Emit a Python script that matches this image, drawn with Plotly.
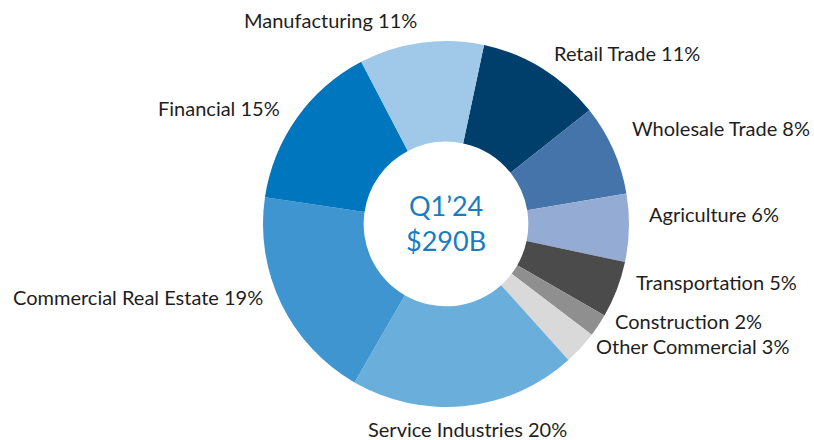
import math
import plotly.graph_objects as go

categories = ["Retail Trade", "Wholesale Trade", "Agriculture", "Transportation",
              "Construction", "Other Commercial", "Service Industries",
              "Commercial Real Estate", "Financial", "Manufacturing"]
values = [11, 8, 6, 5, 2, 3, 20, 19, 15, 11]
colors = ["#003f6b", "#4474aa", "#94abd3", "#4b4b4b", "#8f8f8f", "#d9d9d9",
          "#6aaedb", "#3f95d0", "#0076bf", "#a0c8e8"]
center_text = "Q1’24<br>$290B"

W, H = 814, 440
ROTATION = 12
dom_x = [263 / W, 629 / W]
dom_y = [33 / H, 399 / H]

fig = go.Figure(go.Pie(
    labels=categories,
    values=values,
    sort=False,
    direction="clockwise",
    rotation=ROTATION,
    hole=0.45,
    marker=dict(colors=colors, line=dict(width=0)),
    textinfo="none",
    showlegend=False,
    hoverinfo="label+percent",
    domain=dict(x=dom_x, y=dom_y),
))

# Outside labels placed at each slice's mid-angle, derived from the data
cx = (dom_x[0] + dom_x[1]) / 2 * W
cy = (dom_y[0] + dom_y[1]) / 2 * H  # measured from bottom
R = min((dom_x[1] - dom_x[0]) * W, (dom_y[1] - dom_y[0]) * H) / 2
gap = 18
total = sum(values)
cum = 0
for lab, v in zip(categories, values):
    mid = math.radians(ROTATION + (cum + v / 2) / total * 360)
    cum += v
    s, c = math.sin(mid), math.cos(mid)
    px = cx + (R + gap) * s
    py = cy + (R + gap) * c
    if abs(s) < 0.12:
        xa = "center"
    else:
        xa = "left" if s > 0 else "right"
    yshift = 0
    if c > 0.5:
        ya = "middle"
        if c > 0.95:
            yshift = 5
    elif c < -0.9:
        ya = "top"
        yshift = 9
    else:
        ya = "bottom"
    fig.add_annotation(text=f"{lab} {v}%", x=px / W, y=py / H, xref="paper", yref="paper",
                       xanchor=xa, yanchor=ya, yshift=yshift, showarrow=False,
                       font=dict(family="Lato", size=20, color="#1e1e1e"))

fig.add_annotation(text=center_text, x=cx / W, y=(cy + 1) / H, xref="paper", yref="paper",
                   showarrow=False, font=dict(family="Lato", size=27, color="#1a7cc1"))

fig.update_layout(width=W, height=H, margin=dict(l=0, r=0, t=0, b=0),
                  paper_bgcolor="white", plot_bgcolor="white")
fig.write_html("out.html", post_script="document.body.style.margin='0';",
               config={"displayModeBar": False})
